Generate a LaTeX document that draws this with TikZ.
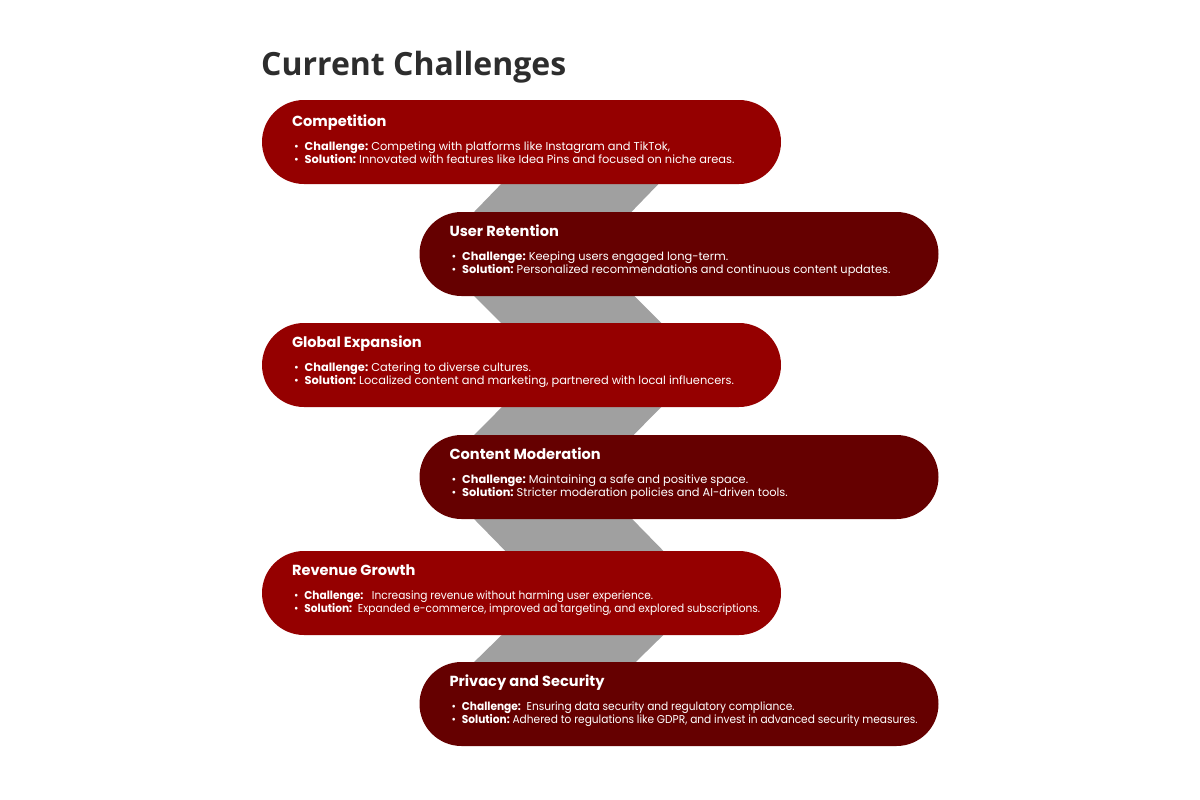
\documentclass[tikz,border=0pt]{standalone}
\usepackage{fontspec}
\setmainfont{Poppins}
\newfontfamily\titlefont{Open Sans}
\newfontfamily\squeezed[FakeStretch=0.93]{Poppins}
\usetikzlibrary{backgrounds}

\definecolor{pillred}{RGB}{149,0,0}
\definecolor{pilldark}{RGB}{101,0,0}
\definecolor{bandgray}{RGB}{160,160,160}
\definecolor{titlegray}{RGB}{45,45,45}

\tikzset{
  pill/.style={minimum width=519pt, minimum height=84pt, rounded corners=42pt, inner sep=0pt},
  pilltext/.style={anchor=west, text=white, align=left, inner sep=0pt,
    font=\fontsize{11.4}{13}\selectfont},
  band/.style={draw=bandgray, line width=113pt}
}
\newcommand{\pillhead}[1]{{\bfseries\fontsize{14.6}{18}\selectfont #1}}
\newcommand{\pillitem}[2]{\hspace{2pt}\textbullet\hspace{6pt}\textbf{#1:}\ #2}

\begin{document}
\begin{tikzpicture}[x=1pt,y=-1pt]
  \useasboundingbox (0,0) rectangle (1200,800);

  \node[anchor=base west, inner sep=0pt, text=titlegray,
    font=\titlefont\bfseries\fontsize{32}{36}\selectfont] (title) at (261,76) {Current Challenges};

  \foreach \n/\x/\y/\c/\sq/\head/\ch/\so in {
    comp/521.5/142/pillred/\relax/Competition/{Competing with platforms like Instagram and TikTok,}/{Innovated with features like Idea Pins and focused on niche areas.},
    ret/679/254/pilldark/\relax/User Retention/{Keeping users engaged long-term.}/{Personalized recommendations and continuous content updates.},
    glob/521.5/365/pillred/\relax/Global Expansion/{Catering to diverse cultures.}/{Localized content and marketing, partnered with local influencers.},
    mod/679/477/pilldark/\relax/Content Moderation/{Maintaining a safe and positive space.}/{Stricter moderation policies and AI-driven tools.},
    rev/521.5/593/pillred/\squeezed/Revenue Growth/{\ \ Increasing revenue without harming user experience.}/{\ Expanded e-commerce, improved ad targeting, and explored subscriptions.},
    priv/679/704/pilldark/\squeezed/Privacy and Security/{\ Ensuring data security and regulatory compliance.}/{Adhered to regulations like GDPR, and invest in advanced security measures.}
  } {
    \node[pill, fill=\c] (\n) at (\x,\y) {};
    \node[pilltext, yshift=3pt] (\n-t) at ([xshift=30pt]\n.west)
      {\pillhead{\head}\\[11pt]{\sq\pillitem{Challenge}{\ch}}\\{\sq\pillitem{Solution}{\so}}};
  }

  % zigzag band behind the pills
  \begin{scope}[on background layer]
    \draw[band] ([xshift=99pt]comp.center) -- ([xshift=-167pt]ret.center)
      -- ([xshift=102pt]glob.center) -- ([xshift=-167pt]mod.center)
      -- ([xshift=104pt]rev.center) -- ([xshift=-167pt]priv.center);
  \end{scope}
\end{tikzpicture}
\end{document}
